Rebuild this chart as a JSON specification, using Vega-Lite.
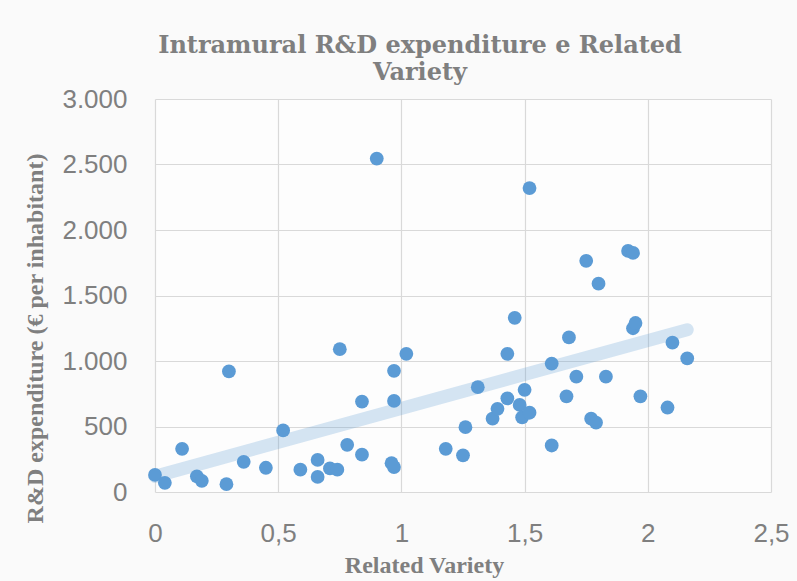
{
  "$schema": "https://vega.github.io/schema/vega-lite/v6.json",
  "width": 616,
  "height": 393,
  "autosize": "none",
  "padding": {"left": 155, "top": 99, "right": 26, "bottom": 89},
  "background": "#fafafa",
  "config": {
    "locale": {"number": {"decimal": ",", "thousands": ".", "grouping": [3], "currency": ["", " €"]}},
    "view": {"stroke": null, "fill": "#ffffff", "fillOpacity": 0.6}
  },
  "title": {
    "text": ["Intramural  R&D expenditure e Related", "Variety"],
    "font": "DejaVu Serif",
    "fontWeight": "bold",
    "fontSize": 24,
    "color": "#7f7f7f",
    "lineHeight": 27,
    "anchor": "middle",
    "dx": -43,
    "dy": 9,
    "offset": 10
  },
  "data": {
    "values": [
      {"rv": 0.00, "rd": 130}, {"rv": 0.04, "rd": 70}, {"rv": 0.11, "rd": 330}, {"rv": 0.17, "rd": 120},
      {"rv": 0.19, "rd": 85}, {"rv": 0.29, "rd": 60}, {"rv": 0.30, "rd": 920}, {"rv": 0.36, "rd": 230},
      {"rv": 0.45, "rd": 185}, {"rv": 0.52, "rd": 470}, {"rv": 0.59, "rd": 170}, {"rv": 0.66, "rd": 245},
      {"rv": 0.66, "rd": 115}, {"rv": 0.71, "rd": 180}, {"rv": 0.74, "rd": 170}, {"rv": 0.75, "rd": 1090},
      {"rv": 0.78, "rd": 360}, {"rv": 0.84, "rd": 690}, {"rv": 0.84, "rd": 285}, {"rv": 0.90, "rd": 2545},
      {"rv": 0.96, "rd": 220}, {"rv": 0.97, "rd": 190}, {"rv": 0.97, "rd": 925}, {"rv": 0.97, "rd": 695},
      {"rv": 1.02, "rd": 1055}, {"rv": 1.18, "rd": 330}, {"rv": 1.25, "rd": 280}, {"rv": 1.26, "rd": 495},
      {"rv": 1.31, "rd": 800}, {"rv": 1.37, "rd": 560}, {"rv": 1.39, "rd": 635}, {"rv": 1.43, "rd": 1055},
      {"rv": 1.43, "rd": 715}, {"rv": 1.46, "rd": 1330}, {"rv": 1.48, "rd": 665}, {"rv": 1.49, "rd": 570},
      {"rv": 1.50, "rd": 780}, {"rv": 1.52, "rd": 605}, {"rv": 1.52, "rd": 2320}, {"rv": 1.61, "rd": 355},
      {"rv": 1.61, "rd": 980}, {"rv": 1.67, "rd": 730}, {"rv": 1.68, "rd": 1180}, {"rv": 1.71, "rd": 880},
      {"rv": 1.75, "rd": 1765}, {"rv": 1.77, "rd": 560}, {"rv": 1.79, "rd": 530}, {"rv": 1.80, "rd": 1590},
      {"rv": 1.83, "rd": 880}, {"rv": 1.92, "rd": 1840}, {"rv": 1.94, "rd": 1825}, {"rv": 1.94, "rd": 1250},
      {"rv": 1.95, "rd": 1290}, {"rv": 1.97, "rd": 730}, {"rv": 2.08, "rd": 645}, {"rv": 2.10, "rd": 1140},
      {"rv": 2.16, "rd": 1020}
    ]
  },
  "encoding": {
    "x": {
      "field": "rv", "type": "quantitative",
      "scale": {"domain": [0, 2.5], "nice": false, "zero": false},
      "axis": {
        "title": "Related Variety",
        "values": [0, 0.5, 1, 1.5, 2, 2.5],
        "format": ".1~f",
        "grid": true, "gridColor": "#d9d9d9", "gridWidth": 1.2,
        "domain": false, "ticks": false,
        "labelFont": "Liberation Sans", "labelFontSize": 26, "labelColor": "#7f7f7f",
        "labelPadding": 28, "labelFlush": false, "labelOverlap": false,
        "titleFont": "Liberation Serif", "titleFontWeight": "bold", "titleFontSize": 24,
        "titleColor": "#7f7f7f", "titleBaseline": "alphabetic", "titleAnchor": "start",
        "titleAlign": "center", "titleX": 269, "titleY": 80
      }
    },
    "y": {
      "field": "rd", "type": "quantitative",
      "scale": {"domain": [0, 3000], "nice": false},
      "axis": {
        "title": "R&D expenditure (€ per inhabitant)",
        "values": [0, 500, 1000, 1500, 2000, 2500, 3000],
        "format": ",d",
        "grid": true, "gridColor": "#d9d9d9", "gridWidth": 1.2,
        "domain": false, "ticks": false,
        "labelFont": "Liberation Sans", "labelFontSize": 26, "labelColor": "#7f7f7f",
        "labelPadding": 28, "labelFlush": false, "labelOverlap": false,
        "titleFont": "Liberation Serif", "titleFontWeight": "bold", "titleFontSize": 24,
        "titleColor": "#7f7f7f", "titleBaseline": "alphabetic", "titleAlign": "center",
        "titleAngle": 270, "titleX": -113, "titleY": 239
      }
    }
  },
  "layer": [
    {
      "transform": [{"regression": "rd", "on": "rv"}],
      "mark": {"type": "line", "color": "#5b9bd5", "opacity": 0.25, "strokeWidth": 13, "strokeCap": "round"}
    },
    {
      "mark": {"type": "circle", "color": "#5b9bd5", "opacity": 1, "size": 190}
    }
  ]
}
